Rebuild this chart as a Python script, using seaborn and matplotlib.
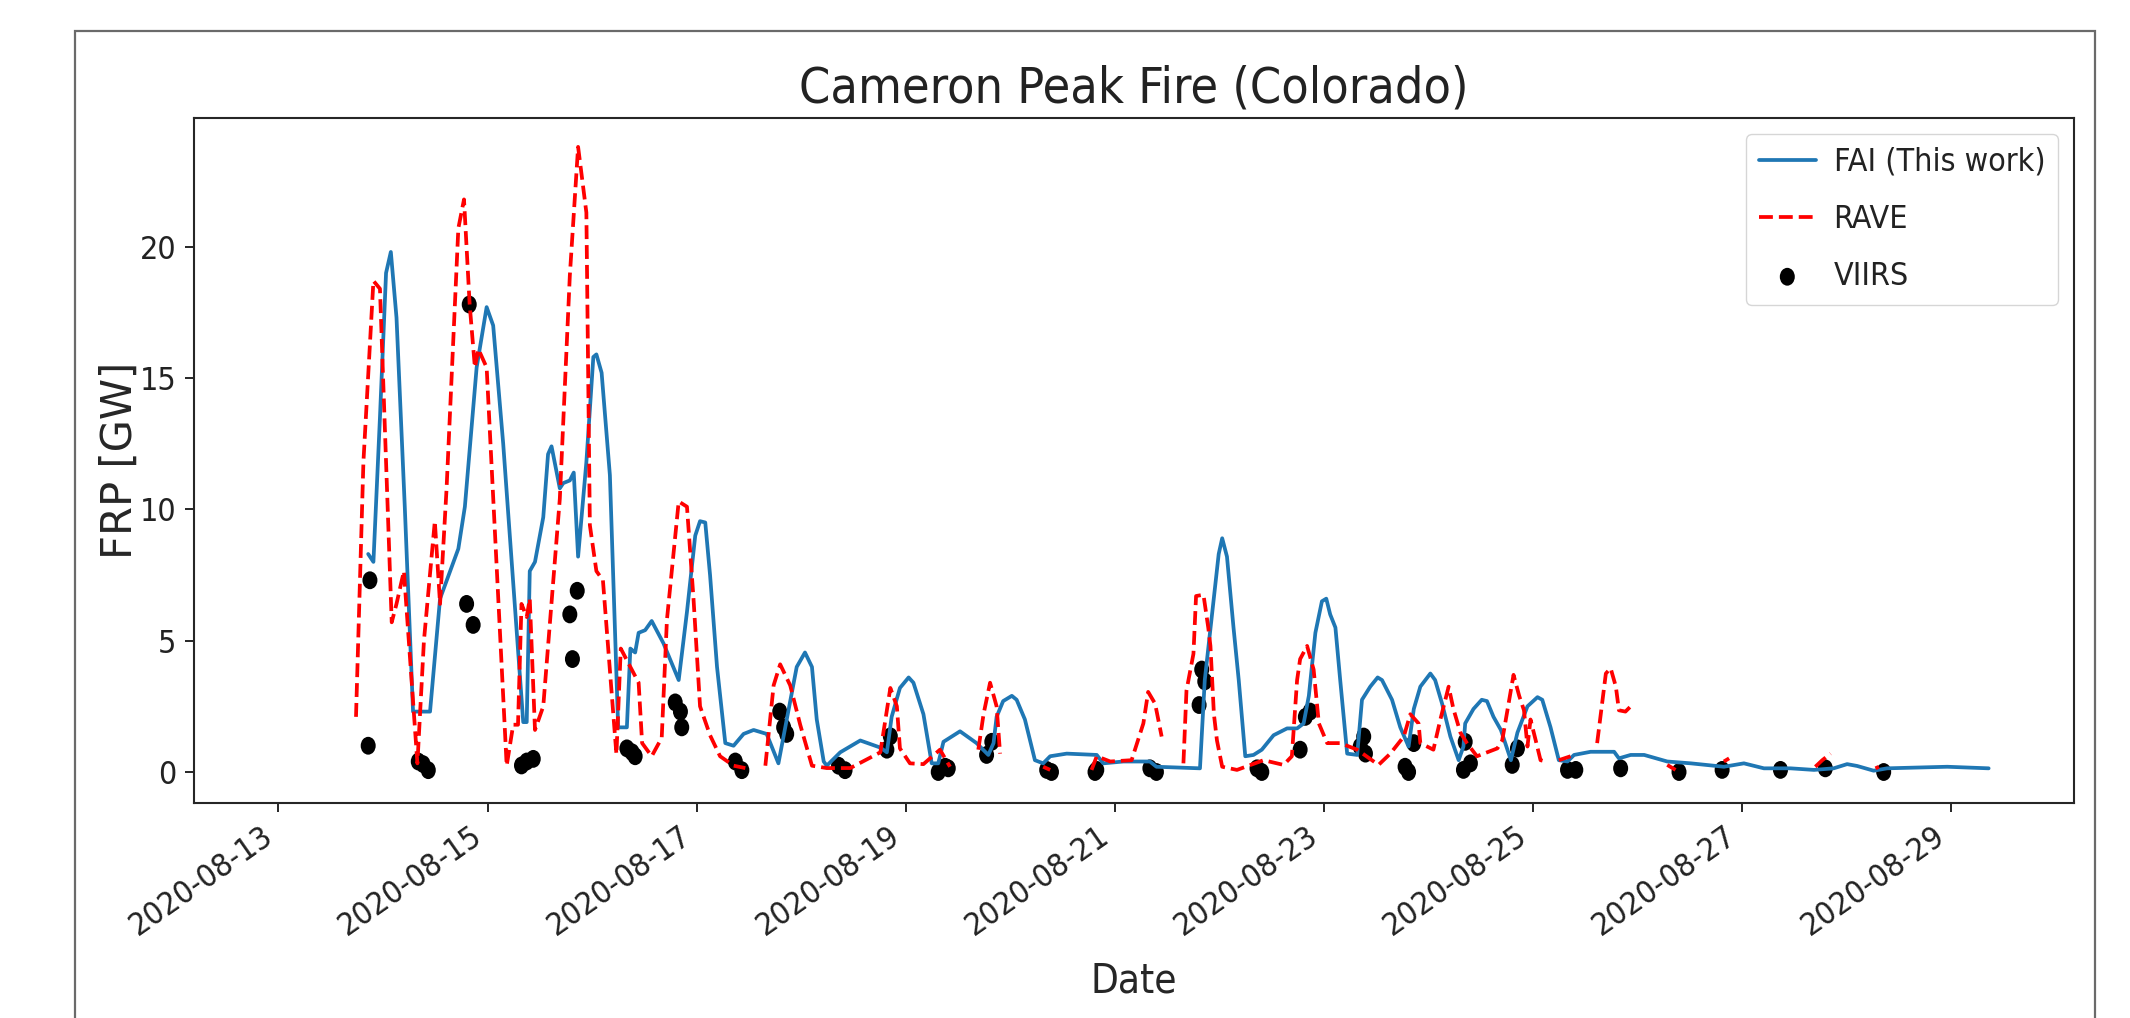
import numpy as np
import pandas as pd
import matplotlib
matplotlib.use("Agg")
import matplotlib.pyplot as plt
import matplotlib.dates as mdates
from matplotlib.patches import Rectangle
from matplotlib.path import Path
from matplotlib.transforms import Affine2D
import seaborn as sns

# ---------------- data ----------------
START = "2020-08-13"          # hours below are counted from this midnight
TITLE = "Cameron Peak Fire (Colorado)"
XLABEL = "Date"
YLABEL = "FRP [GW]"
LABEL_FAI = "FAI (This work)"
LABEL_RAVE = "RAVE"
LABEL_VIIRS = "VIIRS"
TICK_DATES = ["2020-08-13", "2020-08-15", "2020-08-17", "2020-08-19", "2020-08-21",
              "2020-08-23", "2020-08-25", "2020-08-27", "2020-08-29"]
Y_TICKS = [0, 5, 10, 15, 20]

fai_hours = [20.6, 21.8, 23.3, 24.7, 25.8, 27.1, 29.0, 30.9, 34.8, 37.1, 41.3, 42.8,
             45.5, 47.8, 49.3, 51.6, 56.2, 57.0, 57.7, 58.9, 60.8, 61.9, 62.7, 64.6,
             65.4, 66.9, 67.8, 68.8, 70.7, 72.3, 73.0, 74.2, 76.1, 78.0, 80.0, 80.8,
             81.5, 81.9, 82.7, 84.2, 85.7, 88.4, 91.9, 93.8, 95.7, 96.8, 98.0, 99.1,
             100.7, 102.6, 104.5, 106.8, 109.1, 112.1, 114.8, 116.7, 119.0, 120.9, 122.5,
             123.6, 125.2, 125.9, 129.0, 133.6, 138.2, 139.7, 140.8, 142.7, 144.7, 145.8,
             148.1, 150.0, 151.5, 152.7, 156.5, 160.3, 163.0, 164.2, 164.9, 166.4, 168.4,
             169.5, 171.4, 173.7, 175.6, 177.2, 181.0, 187.9, 189.4, 194.0, 200.1, 201.6,
             211.6, 212.7, 213.9, 215.9, 216.7, 217.8, 219.3, 220.5, 222.0, 223.9, 225.8,
             228.5, 231.6, 233.9, 235.4, 236.6, 238.1, 239.6, 240.6, 241.5, 242.7, 243.8,
             245.4, 247.7, 248.8, 250.7, 252.4, 253.4, 255.7, 257.6, 259.5, 260.7, 262.2,
             264.5, 265.6, 267.2, 269.1, 271.0, 272.1, 272.5, 274.4, 276.3, 277.5, 279.0,
             280.7, 283.0, 284.5, 286.8, 289.1, 290.2, 292.1, 294.0, 296.0, 297.5, 301.3,
             306.7, 307.8, 310.5, 313.6, 318.9, 324.3, 331.9, 336.5, 341.1, 347.2, 352.6,
             357.1, 360.2, 362.5, 366.3, 369.4, 383.2, 392.7]
fai_frp = [8.3, 8.0, 13.5, 19.0, 19.8, 17.3, 10.1, 2.3, 2.3, 6.6, 8.5, 10.1,
           15.4, 17.7, 17.0, 12.5, 1.9, 1.9, 7.65, 8.0, 9.7, 12.1, 12.4, 10.8,
           11.0, 11.1, 11.4, 8.2, 11.8, 15.8, 15.9, 15.2, 11.3, 1.7, 1.7, 4.7,
           4.6, 4.55, 5.3, 5.4, 5.75, 4.9, 3.5, 6.1, 9.0, 9.55, 9.5, 7.5,
           4.0, 1.1, 1.0, 1.45, 1.6, 1.45, 0.33, 2.0, 4.0, 4.55, 4.0,
           2.0, 0.4, 0.24, 0.75, 1.2, 0.93, 0.75, 2.1, 3.2, 3.6, 3.4,
           2.2, 0.33, 0.33, 1.15, 1.55, 1.1, 0.65, 1.1, 2.1, 2.7, 2.9,
           2.75, 2.0, 0.45, 0.33, 0.6, 0.7, 0.65, 0.33, 0.4, 0.4, 0.2,
           0.14, 3.5, 5.3, 8.3, 8.9, 8.2, 5.5, 3.5, 0.6, 0.65, 0.85,
           1.4, 1.66, 1.66, 1.85, 2.9, 5.3, 6.5, 6.6, 6.0, 5.5, 3.5,
           0.7, 0.65, 2.75, 3.25, 3.6, 3.5, 2.75, 1.7, 0.97, 2.4, 3.25,
           3.75, 3.5, 2.6, 1.35, 0.45, 0.97, 1.85, 2.4, 2.75, 2.7, 2.1,
           1.6, 0.45, 1.5, 2.5, 2.85, 2.75, 1.7, 0.45, 0.4, 0.65, 0.77,
           0.77, 0.52, 0.65, 0.65, 0.4, 0.33, 0.2, 0.33, 0.14, 0.14, 0.08,
           0.14, 0.3, 0.23, 0.05, 0.14, 0.2, 0.14]

# RAVE: NaN marks a gap in the series
rave_hours = [17.8, 19.5, 21.8, 23.3, 26.0, 27.1, 28.8, 31.9, 33.4, 35.9, 37.1, 38.6,
              41.3, 42.6, 43.9, 45.1, 45.9, 47.8, 52.4, 53.9, 55.0, 55.8, 57.0, 57.7,
              58.9, 60.8, 64.6, 66.9, 68.8, 70.7, 71.5, 73.0, 74.5, 77.6, 78.6, 80.8,
              82.7, 83.5, 85.7, 88.0, 89.2, 91.9, 93.8, 95.3, 96.8, 99.1, 101.4, 104.5,
              107.2, 109.5,
              111.8, 113.7, 115.2, 117.5, 119.8, 122.5, 125.9, 131.3, 138.2, 140.5, 142.0,
              142.7, 145.0, 148.1, 151.9, 154.2, 157.0,
              160.7, 161.9, 163.4, 164.9, 165.7, 170.0,
              175.6, 177.2, 182.0,
              186.7, 187.9, 191.0, 195.9, 198.6, 199.7, 201.3, 202.8, 205.0,
              207.8, 208.5, 210.1, 210.7, 212.4, 213.5, 214.0, 214.8, 215.5, 216.7, 220.1,
              226.2, 230.8, 232.7, 233.9, 234.6, 236.2, 237.7, 238.9, 240.8, 243.8, 247.7,
              252.6, 255.3, 258.4, 259.9, 261.8, 262.2, 265.2, 266.8, 268.7, 269.8, 271.4,
              272.9, 275.2, 279.9, 281.0, 282.2, 283.6, 284.9, 286.0, 286.8, 287.5, 288.7,
              289.8, 291.0, 292.5,
              294.0, 296.7, 299.5,
              302.8, 304.8, 305.9, 307.1, 307.8, 309.3, 310.5, 314.0,
              318.9, 320.8, 326.0,
              331.9, 333.1, 343.0,
              352.9, 354.5, 356.4, 361.0,
              366.7, 367.5]
rave_frp = [2.1, 11.8, 18.7, 18.4, 5.7, 6.4, 7.65, 0.33, 5.0, 9.55, 6.4, 10.8,
            20.7, 21.8, 17.8, 15.4, 16.1, 15.4, 0.24, 1.8, 1.8, 6.4, 5.9, 6.6,
            1.6, 2.5, 10.4, 18.9, 23.8, 21.3, 9.4, 7.65, 7.3, 0.67, 4.7, 4.0,
            3.4, 1.1, 0.6, 1.3, 5.8, 10.3, 10.1, 6.6, 2.5, 1.4, 0.6, 0.24,
            0.15, np.nan,
            0.24, 3.3, 4.1, 3.3, 1.8, 0.24, 0.15, 0.15, 0.75, 3.2, 2.5,
            0.9, 0.33, 0.3, 0.85, 0.2, np.nan,
            0.85, 2.2, 3.4, 2.5, 0.7, np.nan,
            0.2, 0.08, np.nan,
            0.08, 0.6, 0.4, 0.45, 1.85, 3.05, 2.6, 1.35, np.nan,
            0.33, 3.1, 4.5, 6.7, 6.75, 5.5, 4.8, 2.2, 1.2, 0.2, 0.08,
            0.45, 0.27, 0.6, 3.5, 4.3, 4.8, 3.9, 1.85, 1.1, 1.1, 0.85,
            0.27, 0.7, 1.35, 2.2, 1.85, 1.1, 0.85, 2.0, 3.25, 2.4, 1.5,
            1.1, 0.6, 0.9, 1.2, 2.35, 3.7, 2.9, 2.35, 0.97, 2.0, 1.2,
            0.45, 0.4, np.nan,
            0.45, 0.6, np.nan,
            1.1, 3.75, 3.95, 3.25, 2.35, 2.3, 2.5, np.nan,
            0.27, 0.08, np.nan,
            0.4, 0.52, np.nan,
            0.2, 0.45, 0.7, np.nan,
            0.14, 0.2]

viirs_hours = [20.6, 21.0, 32.1, 33.2, 34.4, 43.2, 43.8, 44.7, 55.8, 57.0, 58.5, 66.9,
               67.5, 68.6, 80.0, 81.2, 81.9, 91.1, 92.3, 92.6, 104.9, 106.4, 115.1, 116.0,
               116.7, 128.6, 130.1, 139.7, 140.5, 151.5, 153.1, 153.8, 162.6, 163.8, 176.4,
               177.5, 187.5, 187.9, 200.1, 201.6, 211.4, 212.0, 212.7, 224.7, 225.8, 234.6,
               235.8, 236.9, 248.4, 249.2, 249.6, 258.7, 259.5, 260.7, 272.1, 272.5, 273.7,
               283.3, 284.5, 296.0, 297.9, 308.2, 321.6, 331.5, 344.9, 355.2, 368.6]
viirs_frp = [1.0, 7.3, 0.4, 0.3, 0.07, 6.4, 17.8, 5.6, 0.25, 0.4, 0.5, 6.0,
             4.3, 6.9, 0.9, 0.75, 0.6, 2.65, 2.3, 1.7, 0.4, 0.07, 2.3, 1.7,
             1.45, 0.24, 0.07, 0.85, 1.36, 0.0, 0.2, 0.14, 0.65, 1.15, 0.08,
             0.0, 0.0, 0.08, 0.14, 0.0, 2.55, 3.9, 3.45, 0.14, 0.0, 0.85,
             2.1, 2.3, 0.97, 1.35, 0.7, 0.2, 0.0, 1.1, 0.08, 1.15, 0.33,
             0.27, 0.9, 0.08, 0.08, 0.14, 0.0, 0.08, 0.08, 0.14, 0.0]

# ---------------- build tables ----------------
t0 = pd.Timestamp(START)
fai = pd.DataFrame({"time": t0 + pd.to_timedelta(fai_hours, unit="h"), "frp": fai_frp})
rave = pd.DataFrame({"time": t0 + pd.to_timedelta(rave_hours, unit="h"), "frp": rave_frp})
rave["segment"] = rave["frp"].isna().cumsum()
rave = rave.dropna()
viirs = pd.DataFrame({"time": t0 + pd.to_timedelta(viirs_hours, unit="h"), "frp": viirs_frp})

# ---------------- style ----------------
sns.set_style("ticks")
plt.rcParams["font.family"] = ["DejaVu Sans"]
plt.rcParams["font.stretch"] = "condensed"
plt.rcParams.update({
    "axes.edgecolor": "#262626",
    "axes.linewidth": 1.5,
    "xtick.major.size": 6.3,
    "ytick.major.size": 6.3,
    "xtick.major.width": 1.4,
    "ytick.major.width": 1.4,
    "xtick.major.pad": 6.3,
    "ytick.major.pad": 6.3,
    "text.color": "#222222",
    "xtick.color": "#262626",
    "ytick.color": "#262626",
    "xtick.labelcolor": "#222222",
    "ytick.labelcolor": "#222222",
})

W, H = 2130, 1018
fig = plt.figure(figsize=(W / 100, H / 100), dpi=100)
fig.patch.set_facecolor("white")
ax = fig.add_axes([194 / W, 1 - 803 / H, (2074 - 194) / W, (803 - 118) / H])

# slightly narrow dot, as in the source picture
dot = Path.unit_circle().transformed(Affine2D().scale(0.84, 1.0))

sns.scatterplot(data=viirs, x="time", y="frp", color="black", s=165, marker=dot,
                edgecolor="none", linewidth=0, label=LABEL_VIIRS, ax=ax, legend=False)
sns.lineplot(data=fai, x="time", y="frp", estimator=None, color="#1f77b4", linewidth=2.7,
             label=LABEL_FAI, ax=ax, legend=False)
sns.lineplot(data=rave, x="time", y="frp", units="segment", estimator=None, color="red",
             linestyle="--", linewidth=2.7, label=LABEL_RAVE, ax=ax, legend=False)

ax.set_xlim(t0 + pd.Timedelta(hours=-19.4), t0 + pd.Timedelta(hours=412.3))
ax.set_ylim(-1.18, 24.9)
ax.set_yticks(Y_TICKS)
ax.set_xticks(pd.to_datetime(TICK_DATES))
ax.xaxis.set_major_formatter(mdates.DateFormatter("%Y-%m-%d"))
ax.tick_params(axis="both", labelsize=23)
plt.setp(ax.get_xticklabels(), rotation=35, ha="right")

ax.set_title(TITLE, fontsize=36, pad=11)
ax.set_xlabel(XLABEL, fontsize=29, labelpad=14)
ax.set_ylabel(YLABEL, fontsize=30, fontstretch="normal", labelpad=-1)

# legend: one entry per series, in reference order
handles, labels = ax.get_legend_handles_labels()
by_label = {}
for h, l in zip(handles, labels):
    by_label.setdefault(l, h)
order = [LABEL_FAI, LABEL_RAVE, LABEL_VIIRS]
ax.legend([by_label[k] for k in order], order, loc="upper right", fontsize=23,
          frameon=True, scatterpoints=1, handlelength=1.8, handletextpad=0.55,
          labelspacing=0.82, borderaxespad=0.5)

# outer frame of the source picture
fig.add_artist(Rectangle((75 / W, -0.05), (2095 - 75) / W, (H - 31) / H + 0.05,
                         transform=fig.transFigure, fill=False, edgecolor="#6a6a6a",
                         linewidth=1.6))

fig.savefig("out.png", dpi=100, facecolor="white")
